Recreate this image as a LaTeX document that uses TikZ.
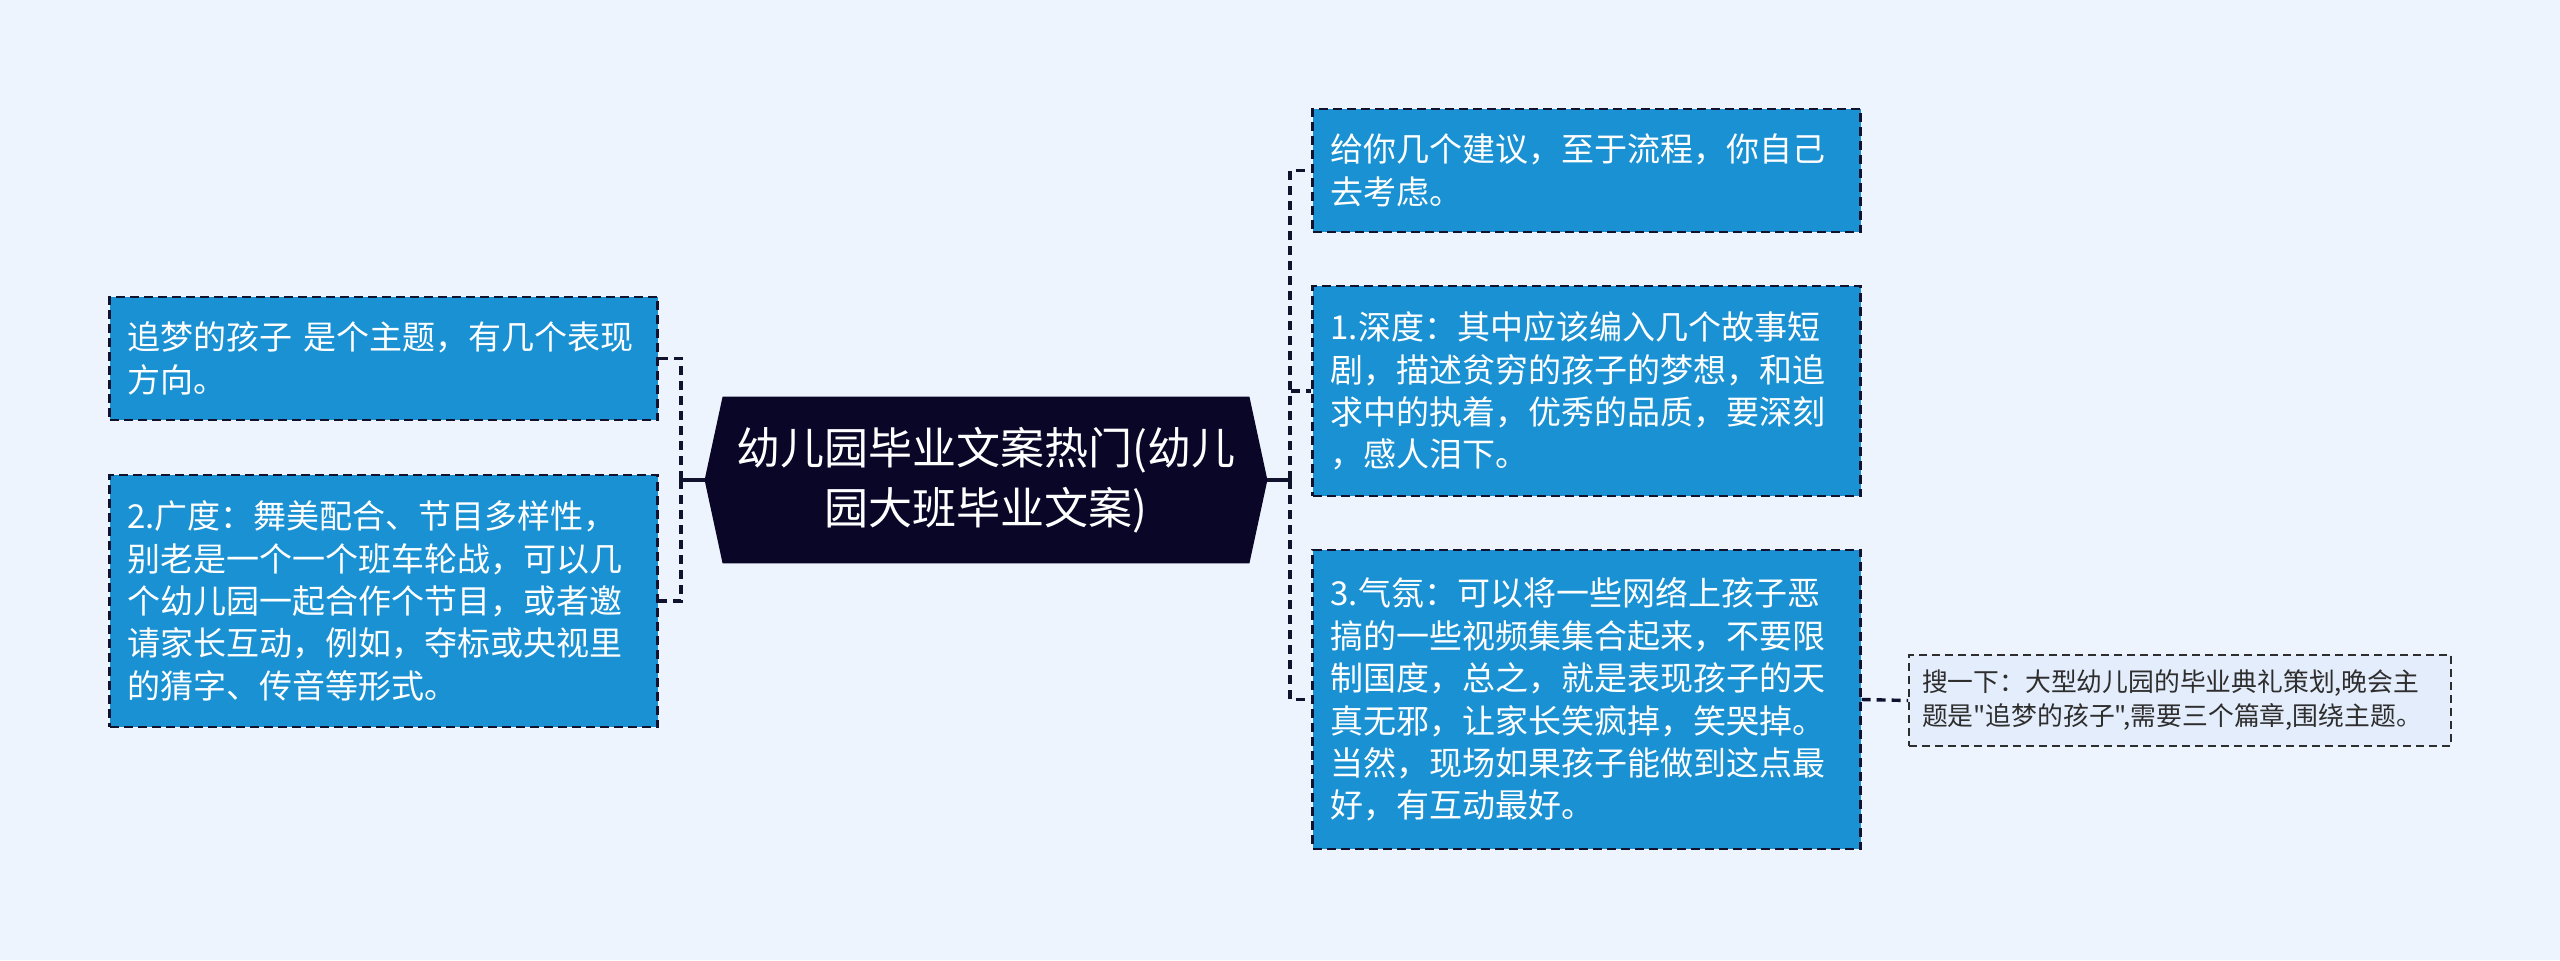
\documentclass[tikz,border=0pt]{standalone}
\usepackage{fontspec}
\setmainfont{Noto Sans CJK SC}[Ligatures=TeXOff]
\usepackage{xcolor}
\usepackage{tikz}
\usetikzlibrary{shapes}
\definecolor{pagebg}{HTML}{EEF4FE}
\definecolor{topicblue}{HTML}{1A91D2}
\definecolor{edge}{HTML}{10122E}
\definecolor{rootfill}{HTML}{0A0628}
\definecolor{notefill}{HTML}{E4EDFB}
\definecolor{notetext}{HTML}{2E2E2E}
\pgfdeclarelayer{bg}
\pgfsetlayers{bg,main}
\tikzstyle{topic} = [rectangle, draw=edge, line width=1.1pt, dash pattern=on 4.5pt off 2.5pt, fill=topicblue, text=white, align=left, text width=256pt, inner xsep=9pt, inner ysep=0pt, font=\fontsize{16.5}{21.2}\selectfont]
\tikzstyle{root} = [rectangle, text=white, align=center, minimum width=263pt, minimum height=83pt, inner sep=0pt, font=\fontsize{22}{30}\selectfont]
\tikzstyle{note} = [rectangle, draw=notetext, line width=0.8pt, dash pattern=on 4pt off 2.5pt, fill=notefill, text=notetext, align=left, text width=258pt, inner xsep=6.5pt, inner ysep=0pt, minimum height=45.5pt, font=\fontsize{12.9}{17}\selectfont]
\tikzstyle{link} = [draw=edge, line width=1.7pt, dash pattern=on 4.5pt off 3pt]
\tikzstyle{stem} = [draw=edge, line width=1.7pt]

\begin{document}
\begin{tikzpicture}[x=0.5pt, y=-0.5pt]
\begin{pgfonlayer}{bg}
\fill[pagebg] (0,0) rectangle (2560,960);
\end{pgfonlayer}
\useasboundingbox (0,0) rectangle (2560,960);

\node [root] (root) at (986,480) {幼儿园毕业文案热门(幼儿\\园大班毕业文案)};
\coordinate (root-w) at ([xshift=-9pt]root.west);
\coordinate (root-e) at ([xshift=9pt]root.east);
\begin{pgfonlayer}{bg}
\fill[rootfill] (root-w) -- (root.north west) -- (root.north east) -- (root-e) -- (root.south east) -- (root.south west) -- cycle;
\end{pgfonlayer}

% left side
\node [topic, minimum height=61.5pt] (theme) at (383.5,358.5) {追梦的孩子 是个主题，有几个表现\\方向。};
\node [topic, minimum height=126pt] (breadth) at (383.5,601) {2.广度：舞美配合、节目多样性，\\别老是一个一个班车轮战，可以几\\个幼儿园一起合作个节目，或者邀\\请家长互动，例如，夺标或央视里\\的猜字、传音等形式。};

% right side
\node [topic, minimum height=61.5pt] (advice) at (1586.5,170.5) {给你几个建议，至于流程，你自己\\去考虑。};
\node [topic, minimum height=105pt] (depth) at (1586.5,391) {1.深度：其中应该编入几个故事短\\剧，描述贫穷的孩子的梦想，和追\\求中的执着，优秀的品质，要深刻\\，感人泪下。};
\node [topic, minimum height=149.5pt] (mood) at (1586.5,699.5) {3.气氛：可以将一些网络上孩子恶\\搞的一些视频集集合起来，不要限\\制国度，总之，就是表现孩子的天\\真无邪，让家长笑疯掉，笑哭掉。\\当然，现场如果孩子能做到这点最\\好，有互动最好。};
\node [note] (search) at (2180,700.5) {搜一下：大型幼儿园的毕业典礼策划,晚会主\\题是"追梦的孩子",需要三个篇章,围绕主题。};

\coordinate (lj) at (681,480);
\coordinate (rj) at (1290,480);
\path [stem] (root-w) -- (lj);
\path [stem] (root-e) -- (rj);
\path [link] (lj) |- (theme.east);
\path [link] (lj) |- (breadth.east);
\path [link] (rj) |- (advice.west);
\path [link] (rj) |- (depth.west);
\path [link] (rj) |- (mood.west);
\path [link] (mood.east) -- (search.west);
\end{tikzpicture}
\end{document}
